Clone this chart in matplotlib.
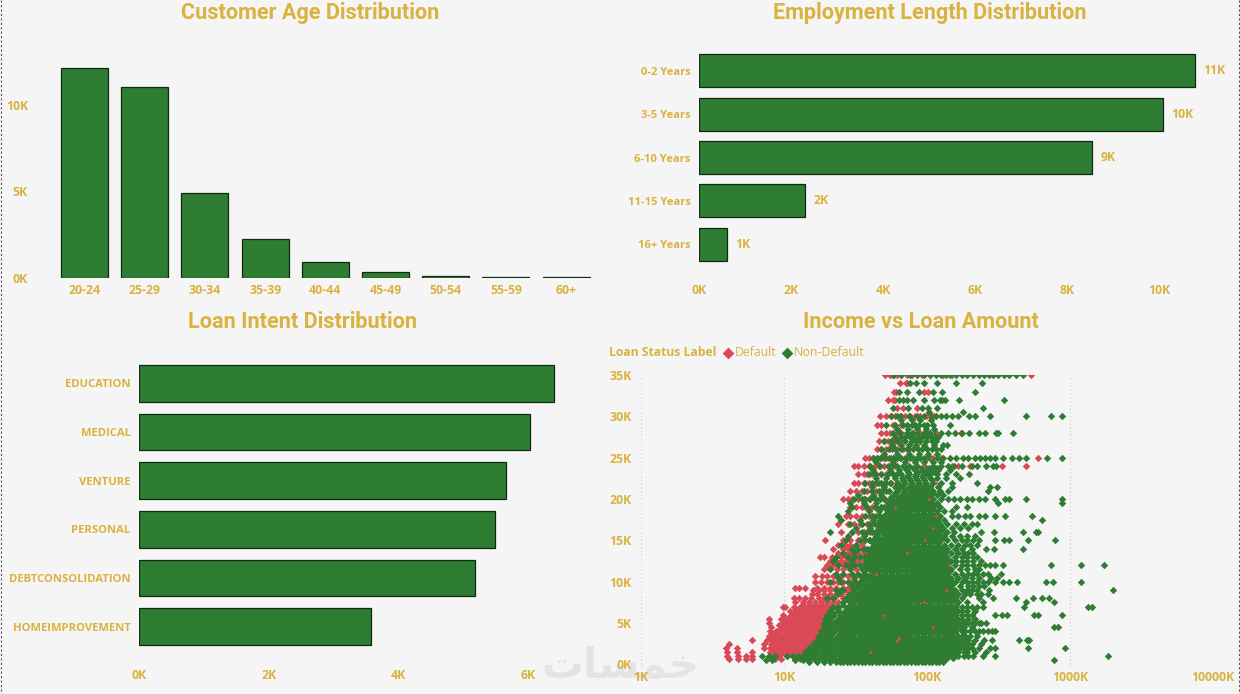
import matplotlib
matplotlib.use("Agg")
import matplotlib.pyplot as plt

W, H = 1240, 694
BG = "#F5F5F5"
GOLD = "#D9B23F"
GREEN = "#2E7D32"
RED = "#D94A56"
EDGE = "#0E2A12"

age_labels = ["20-24", "25-29", "30-34", "35-39", "40-44", "45-49", "50-54", "55-59", "60+"]
age_values = [12.14, 11.04, 4.9, 2.25, 0.93, 0.35, 0.14, 0.05, 0.04]
age_ticks = [0, 5, 10]

emp_labels = ["0-2 Years", "3-5 Years", "6-10 Years", "11-15 Years", "16+ Years"]
emp_values = [10.78, 10.09, 8.54, 2.3, 0.6]
emp_ticks = [0, 2, 4, 6, 8, 10]

intent_labels = ["EDUCATION", "MEDICAL", "VENTURE", "PERSONAL", "DEBTCONSOLIDATION", "HOMEIMPROVEMENT"]
intent_values = [6.39, 6.02, 5.66, 5.48, 5.17, 3.57]
intent_ticks = [0, 2, 4, 6]

income_ticks = [1, 10, 100, 1000, 10000]
amount_ticks = [0, 5, 10, 15, 20, 25, 30, 35]

# (loan amount in K, [annual incomes in K])
default_rows = [
 (0.7,[4.1,4.8,5.4,6.0,8.6,9.5,12,13,14.5,16.5]),
 (1.0,[4.0,4.8,5.4,6.0,8.2,9.2,10.5,11.5]),
 (1.25,[8.6,9.4,10.2,11,12,13]),
 (1.5,[4.0,4.7,6.0,8.0,8.8,9.8,10.8,12]),
 (1.75,[8.4,9.2,10,11,12,13,14.2]),
 (2.0,[3.9,4.7,7.2,8.0,8.8,9.6,10.4,11.3,12.3,13.4,14.6]),
 (2.25,[8.4,9.2,10,10.9,11.8,12.8,13.9,15.1]),
 (2.5,[4.1,7.2,8.1,9,9.9,10.8,11.8,12.9,14,15.3]),
 (2.75,[8.6,9.5,10.4,11.4,12.4,13.5,14.7,16]),
 (3.0,[6.0,7.6,8.4,9.3,10.3,11.3,12.4,13.6,15,16.4,17.8]),
 (3.25,[8,8.9,9.8,10.8,11.8,13,14.2,15.6,17]),
 (3.5,[7.8,8.6,9.6,10.6,11.7,12.8,14,15.4,16.8,18]),
 (3.75,[8.3,9.1,10.1,11.2,12.3,13.4,14.7,16,17.4]),
 (4.0,[8.0,8.8,10,11,12,13.2,14.5,16,17.5,19]),
 (4.25,[9.4,10.4,11.5,12.6,13.8,15.2,16.7,18.2]),
 (4.5,[8.1,9.6,10.5,11.4,12.6,13.8,15,16.5,18,20]),
 (4.75,[9.2,10.1,11.1,12.2,13.4,14.6,16,17.6,19.2]),
 (5.0,[7.9,9.8,10.8,11.8,13,14.2,15.6,17,18.6,20]),
 (5.25,[10.3,11.3,12.4,13.6,14.9,16.3,17.8,19.4]),
 (5.5,[7.8,9.6,10.2,11.4,12.4,13.6,15,16.3,17.8,19.5,21]),
 (5.75,[10.9,12,13.2,14.4,15.8,17.2,18.8]),
 (6.0,[9.8,11.5,12.8,14,15.4,16.8,18.4,20,22]),
 (6.25,[12.3,13.6,14.8,16.2,17.7,19.2,21]),
 (6.5,[11,11.9,13.2,14.6,16,17.6,19,21]),
 (6.75,[12.6,14,15.3,16.8,18.4,20]),
 (7.0,[9.8,10.1,11.8,13,14.4,15.8,17.2,19,21,23]),
 (7.25,[13.6,15,16.5,18,19.7,21.5]),
 (7.5,[11.9,13.6,15,16.6,18.2,20,22,24]),
 (8.0,[11.7,12.8,14,15.5,17.5,19,20.5,22.5,26,29]),
 (8.5,[15.6,17,19,21,23,25,28,31]),
 (9.0,[16,17.5,19,21,24,27,30]),
 (9.3,[11.9,12.8,14,17,19,21,23,26,28,32]),
 (10.0,[16.5,18,20,22,24,26,29,32,35]),
 (10.7,[16.5,18.5,20,22,25,28,31,34,38]),
 (11.5,[19,21,23.5,26,29,32,36]),
 (12.0,[20,22,24,26,28,30,32,34,37,40]),
 (12.5,[21,23,25,27,29,31,33,36]),
 (13.0,[17.8,19,21.5,25,27,28.5,30,32,34,38]),
 (13.5,[24,26,28,29.5,31,33,36,39]),
 (14.0,[22,26,28,30,32,35,38]),
 (14.5,[24,26.5,29,32,35]),
 (15.0,[19.3,26,29,33,36,40,44]),
 (16.0,[25,30,33,36,40,44,50]),
 (17.0,[24,28,31,34,38,41,45,52]),
 (18.0,[27,29,32,35,39,42,46,50,55]),
 (19.0,[29,32,35,37,41,44,48,53]),
 (20.0,[26,28,30,33,36,39,43,47,51,56]),
 (21.0,[29,32,35,38,41,44,48,54]),
 (22.0,[31,33,36,39,43,46,50,56,62]),
 (23.0,[33,36,38,41,44,48,52,58]),
 (24.0,[31,33,36,39,43,46,50,55,60,70,150,165,200,335,490]),
 (25.0,[37,39,42,45,48,52,56,60,65,72,80,90,100,110,125,595]),
 (26.0,[45,48,52,57,62,68,75]),
 (27.0,[46,50,53,57,60,63,66]),
 (28.0,[48,52,55,58,62,66,72,80,90,100,172]),
 (29.0,[45,48,58,66,72,82]),
 (30.0,[47,52,56,60,65,70,76,82,90,98,108,112]),
 (31.0,[62,68,85]),
 (32.0,[53,58,60]),
 (33.0,[59,61,102,96]),
 (34.0,[65,71,73]),
 (35.0,[51,55,59,62,66,72,78,92,105,130,150,534]),
]

nondefault_rows = [
 (0.5,[7.5,8.2,12,13.5,15,17,19,21,24,27,30,33,37,42,47,53,59,66,75,84,94,105,118,132,775]),
 (1.0,[7,7.8,8.6,10.5,11.5,12.5,13.5,14.5,16,18,20,22.5,25,28,32,35.5,40,45,50,56,63,70,79,88,99,111,124,139,156,1850]),
 (1.5,[14,15.5,17,19,21,24,26.5,30,33.5,38,42.5,47.5,53,59.5,66.5,74.5,83.5,93.5,105,117,132,147,165,180]),
 (2.0,[15,16.5,18,20,22.5,25,28,32,35.5,40,45,50,56,63,70,79,88,99,111,124,139,156,180,205,300,505,930]),
 (2.5,[16,17.5,19,21,24,26.5,30,33.5,38,42.5,47.5,53,59.5,66.5,74.5,83.5,93.5,105,117,132,147,170,190]),
 (3.0,[17,18,20,22.5,25,28,32,35.5,40,45,50,56,63,70,79,88,99,111,124,139,156,175,195,440,500,520]),
 (3.5,[17.5,19,21,24,26.5,30,33.5,38,42.5,47.5,53,59.5,66.5,74.5,83.5,93.5,105,117,132,147,165,185]),
 (4.0,[18,20,22.5,25,28,32,35.5,40,45,50,56,63,70,79,88,99,111,124,139,156,175,200,230,265,300]),
 (4.5,[19,21,24,26.5,30,33.5,38,42.5,47.5,53,59.5,66.5,74.5,83.5,93.5,105,117,132,147,170,775,820]),
 (5.0,[19,20,22.5,25,28,32,35.5,40,45,50,56,63,70,79,88,99,111,124,139,156,175,195,215,240]),
 (5.5,[19.5,21,24,26.5,30,33.5,38,42.5,47.5,53,59.5,66.5,74.5,83.5,93.5,105,117,132,147,165]),
 (6.0,[20,22.5,25,28,32,35.5,40,45,50,56,63,70,79,88,99,111,124,139,156,175,190,205,300,335,360,560,600,885]),
 (6.5,[21,24,26.5,30,33.5,38,42.5,47.5,53,59.5,66.5,74.5,83.5,93.5,105,117,132,147,165]),
 (7.0,[22,24,28,32,35.5,40,45,50,56,63,70,79,88,99,111,124,139,156,175,480,1340,1430]),
 (7.5,[26,30,33.5,38,42.5,47.5,53,59.5,66.5,74.5,83.5,93.5,105,117,132,147,165,190,245,490,770]),
 (8.0,[27,32,35.5,40,45,50,56,63,70,79,88,99,111,124,139,156,175,230,290,420,550,640,710]),
 (8.5,[24,29,33.5,38,42.5,47.5,53,59.5,66.5,74.5,83.5,93.5,105,117,132,147,165,185,225]),
 (9.0,[26,31,35.5,40,45,50,56,63,70,79,88,99,111,124,139,156,175,205,2000]),
 (9.5,[30,33.5,38,42.5,47.5,53,59.5,66.5,74.5,83.5,93.5,105,117,132,147,170,195,250]),
 (10.0,[21,28,34,39,45,50,56,63,70,79,88,99,111,124,139,156,175,190,205,225,245,265,300,340,375,425,680,760,1190]),
 (10.5,[24,31,36,40,44,47.5,53,59.5,66.5,74.5,83.5,93.5,105,117,132,147,165,310]),
 (11.0,[23,30,37,42,45,50,56,63,70,79,88,99,111,124,139,156,175,195,225,265,330]),
 (11.5,[21,29,35,39,43,47.5,53,59.5,66.5,74.5,83.5,93.5,105,117,132,147,170,230]),
 (12.0,[24,27,34,41,45,50,56,63,70,79,88,99,111,124,139,156,175,190,210,230,255,275,300,340,740,1190,1740]),
 (12.5,[22,30,38,42.5,47.5,53,59.5,66.5,74.5,83.5,93.5,105,117,132,147,160,190]),
 (13.0,[23,28,34,40,45,50,56,63,70,79,88,99,111,124,139,156,175,210]),
 (13.5,[26,31,41,46,53,59.5,66.5,74.5,83.5,93.5,105,117,132,147,165,195]),
 (14.0,[30,36,42,47,50,56,63,70,79,88,99,111,124,139,156,175,205,260,295,470]),
 (14.5,[25,32,44,47.5,53,59.5,66.5,74.5,83.5,93.5,105,117,132,147,165,185]),
 (15.0,[27,34,42,45,50,56,63,70,79,88,99,111,124,139,156,175,190,210,230,300,345,375,510,785]),
 (15.5,[28,36,44,53,59.5,66.5,74.5,83.5,93.5,105,117,132,150,170]),
 (16.0,[21,30,38,46,50,56,63,70,79,88,99,111,124,139,155,240,295,470,575,595]),
 (16.5,[32,40,48,53,59.5,66.5,74.5,83.5,93.5,105,117,130,150]),
 (17.0,[29,35,43,50,56,63,70,79,88,99,111,124,139,225]),
 (17.5,[25,34,42,47,53,59.5,66.5,74.5,83.5,93.5,105,117,132,640]),
 (18.0,[24,37,44,50,56,63,70,79,88,99,111,124,150,165,185,200,230,255,300,350,540]),
 (18.5,[28,39,46,53,59.5,66.5,74.5,83.5,93.5,105,117,132,150]),
 (19.0,[30,38,48,56,63,70,79,88,99,111,124,160,190]),
 (19.5,[29,36,44,53,59.5,66.5,74.5,83.5,93.5,105,117,315,885]),
 (20.0,[31,40,50,56,63,70,79,88,99,111,125,140,155,170,190,205,230,255,300,350,375,490,885]),
 (20.5,[33,42,48,59.5,66.5,74.5,83.5,93.5,105,117,130]),
 (21.0,[36,46,54,63,70,79,88,99,111,124,140,267]),
 (21.5,[41,50,59.5,66.5,74.5,83.5,93.5,105,120,150,277,310]),
 (22.0,[37,45,55,63,70,79,88,99,111,125,150,225]),
 (22.5,[44,52,60,66.5,74.5,83.5,93.5,105,118,135,170]),
 (23.0,[39,48,58,66,75,84,95,105,118,135,160,197]),
 (23.5,[42,55,64,72,83,93,108,120,145]),
 (24.0,[40,53,62,75,85,95,110,125,140,155,175,205,225,260,290,305]),
 (24.5,[44,58,70,82,95,110,125]),
 (25.0,[42,45,50,58,66,76,85,95,105,118,130,145,160,178,195,215,235,255,275,300,340,390,440,490,690,885]),
 (26.0,[48,60,72,86,100,115,125]),
 (26.5,[57,66,75,130,138]),
 (27.0,[50,62,78,90,108]),
 (27.5,[66,80,70,92,100,112]),
 (28.0,[58,65,72,78,85,95,105,115,125,140,157,175,197,232,255,305,315,400]),
 (29.0,[52,68,78,88,100,145]),
 (30.0,[56,62,66,75,85,95,105,115,125,135,150,165,197,215,275,490,740,885]),
 (30.5,[103,178]),
 (31.0,[58,245]),
 (32.0,[64,68,72,123,128,133,167,345]),
 (33.0,[64,127,215]),
 (34.0,[84,160,244]),
 (35.0,[58,66,76,85,95,105,115,125,135,145,160,175,190,210,230,250,270,290,315,345,375,420,467]),
]

# the solid core of non-default loans, between the rows above
nondefault_core = [
 (0.25,[15,17,19,21,23,26,29,33,37,41.5,46.5,52,58,65,73,82,92,103,115,129,24.5,27.5,31,35,39,44,49,55,61.5,69,77.5,87,97.5,109,122]),
 (0.75,[13,14.5,16,18,22,24.5,27.5,31,35,39,44,49,55,61.5,69,77.5,87,97.5,109,122,137,153,26,29,33,37,41.5,46.5,52,58,65,73,82,92,103,115,129]),
 (1.25,[15,17,19,21,23,26,29,33,37,41.5,46.5,52,58,65,73,82,92,103,115,129,145,160,24.5,27.5,31,35,39,44,49,55,61.5,69,77.5,87,97.5,109,122]),
 (1.75,[16,18,22,24.5,27.5,31,35,39,44,49,55,61.5,69,77.5,87,97.5,109,122,137,153,26,29,33,37,41.5,46.5,52,58,65,73,82,92,103,115,129]),
 (2.25,[17,19,21,23,26,29,33,37,41.5,46.5,52,58,65,73,82,92,103,115,129,145,160,24.5,27.5,31,35,39,44,49,55,61.5,69,77.5,87,97.5,109,122]),
 (2.75,[18,20,22,24.5,27.5,31,35,39,44,49,55,61.5,69,77.5,87,97.5,109,122,137,153,26,29,33,37,41.5,46.5,52,58,65,73,82,92,103,115,129]),
 (3.25,[19,21,23,26,29,33,37,41.5,46.5,52,58,65,73,82,92,103,115,129,145,160,24.5,27.5,31,35,39,44,49,55,61.5,69,77.5,87,97.5,109,122]),
 (3.75,[20,22,24.5,27.5,31,35,39,44,49,55,61.5,69,77.5,87,97.5,109,122,137,153,26,29,33,37,41.5,46.5,52,58,65,73,82,92,103,115,129]),
 (4.25,[20,21,23,26,29,33,37,41.5,46.5,52,58,65,73,82,92,103,115,129,145,160,24.5,27.5,31,35,39,44,49,55,61.5,69,77.5,87,97.5,109,122]),
 (4.75,[20,22,24.5,27.5,31,35,39,44,49,55,61.5,69,77.5,87,97.5,109,122,137,153,26,29,33,37,41.5,46.5,52,58,65,73,82,92,103,115,129]),
 (5.25,[20.5,23,26,29,33,37,41.5,46.5,52,58,65,73,82,92,103,115,129,145,160,24.5,27.5,31,35,39,44,49,55,61.5,69,77.5,87,97.5,109,122]),
 (5.75,[21,24.5,27.5,31,35,39,44,49,55,61.5,69,77.5,87,97.5,109,122,137,153,26,29,33,37,41.5,46.5,52,58,65,73,82,92,103,115,129]),
 (6.25,[22,26,29,33,37,41.5,46.5,52,58,65,73,82,92,103,115,129,145,160,27.5,31,35,39,44,49,55,61.5,69,77.5,87,97.5,109,122]),
 (6.75,[24,27.5,31,35,39,44,49,55,61.5,69,77.5,87,97.5,109,122,137,153,29,33,37,41.5,46.5,52,58,65,73,82,92,103,115,129]),
 (7.25,[26,29,33,37,41.5,46.5,52,58,65,73,82,92,103,115,129,145,160,31,35,39,44,49,55,61.5,69,77.5,87,97.5,109,122]),
 (7.75,[28,31,35,39,44,49,55,61.5,69,77.5,87,97.5,109,122,137,153,33,37,41.5,46.5,52,58,65,73,82,92,103,115,129]),
 (8.25,[30,33,37,41.5,46.5,52,58,65,73,82,92,103,115,129,145,155,35,39,44,49,55,61.5,69,77.5,87,97.5,109,122]),
 (8.75,[31,35,39,44,49,55,61.5,69,77.5,87,97.5,109,122,137,150,37,41.5,46.5,52,58,65,73,82,92,103,115,129]),
 (9.25,[33,37,41.5,46.5,52,58,65,73,82,92,103,115,129,145,39,44,49,55,61.5,69,77.5,87,97.5,109,122]),
 (9.75,[33,35,39,44,49,55,61.5,69,77.5,87,97.5,109,122,137,150,41.5,46.5,52,58,65,73,82,92,103,115,129]),
 (10.25,[35,37,41.5,46.5,52,58,65,73,82,92,103,115,129,145,39,44,49,55,61.5,69,77.5,87,97.5,109,122]),
 (10.75,[35,39,44,49,55,61.5,69,77.5,87,97.5,109,122,137,41.5,46.5,52,58,65,73,82,92,103,115,129]),
 (11.25,[36,41.5,46.5,52,58,65,73,82,92,103,115,129,145,44,49,55,61.5,69,77.5,87,97.5,109,122]),
 (11.75,[37,39,44,49,55,61.5,69,77.5,87,97.5,109,122,137,41.5,46.5,52,58,65,73,82,92,103,115,129]),
 (12.25,[38,41.5,46.5,52,58,65,73,82,92,103,115,129,140,44,49,55,61.5,69,77.5,87,97.5,109,122]),
 (12.75,[38,44,49,55,61.5,69,77.5,87,97.5,109,122,135,41.5,46.5,52,58,65,73,82,92,103,115,129]),
 (13.25,[39,41.5,46.5,52,58,65,73,82,92,103,115,129,44,49,55,61.5,69,77.5,87,97.5,109,122]),
 (13.75,[40,44,49,55,61.5,69,77.5,87,97.5,109,122,135,46.5,52,58,65,73,82,92,103,115,129]),
 (14.25,[41,46.5,52,58,65,73,82,92,103,115,129,44,49,55,61.5,69,77.5,87,97.5,109,122]),
 (14.75,[41.5,49,55,61.5,69,77.5,87,97.5,109,122,46.5,52,58,65,73,82,92,103,115]),
 (15.25,[43,46.5,52,58,65,73,82,92,103,115,129,49,55,61.5,69,77.5,87,97.5,109,122]),
 (15.75,[45,49,55,61.5,69,77.5,87,97.5,109,122,52,58,65,73,82,92,103,115]),
 (16.25,[45,52,58,65,73,82,92,103,115,128,49,55,61.5,69,77.5,87,97.5,109,122]),
 (16.75,[47,55,61.5,69,77.5,87,97.5,109,122,52,58,65,73,82,92,103,115]),
 (17.25,[49,52,58,65,73,82,92,103,115,55,61.5,69,77.5,87,97.5,109]),
 (17.75,[50,55,61.5,69,77.5,87,97.5,109,120,58,65,73,82,92,103,115]),
 (18.25,[52,58,65,73,82,92,103,115,55,61.5,69,77.5,87,97.5,109]),
 (18.75,[52,55,61.5,69,77.5,87,97.5,109,58,65,73,82,92,103]),
 (19.25,[53,58,65,73,82,92,103,112,61.5,69,77.5,87,97.5]),
 (19.75,[55,61.5,69,77.5,87,97.5,105,58,65,73,82,92]),
 (20.25,[56,65,73,82,92,103]),
 (20.75,[60,69,77.5,87,97.5,108]),
 (21.25,[62,73,82,92,103]),
 (21.75,[65,77.5,87,97.5]),
 (22.25,[68,76,85,95,108]),
 (22.75,[72,82,92,103]),
 (23.25,[74,86,98,112]),
 (23.75,[70,80,92,104,118]),
]

# scattered non-default loans along both flanks and in the upper rows
nondefault_fringe = [
 (1,[165,180,195,210,245,300]),(1.5,[190,215,260]),(2,[170,195,230,275]),(2.5,[160,180,205,240]),
 (3,[165,185,215,250,285]),(3.5,[175,200,225]),(4,[160,185,215,245,285]),(4.5,[160,180,205]),
 (5,[165,185,205,230,260]),(5.5,[158,175,195,215]),(6.5,[175,190,215]),(7,[190,205,225,245]),
 (8.5,[200,240,265]),(9,[190,225,270]),(9.5,[210,230]),(10.5,[185,205,230,280]),
 (11,[210,245]),(11.5,[190,215]),(12.5,[175,210,240]),(13,[190,225]),(13.5,[180,210]),
 (14.5,[200,225]),(15.5,[190,215]),(16.5,[170,195]),(17,[160,180,205]),
 (8,[20,22]),(9,[23,25]),(10,[25,31]),(11,[26,33]),(12,[29,31,36]),(13,[31,36,37]),
 (14,[33,38]),(15,[37,39]),(16,[35,41]),(17,[39,46]),(18,[41,47]),(19,[43,50]),
 (20,[35,37,44,47]),(21,[41,49,52]),(22,[41,48,52]),(23,[43,53,62]),(24,[47,57,68]),
 (25,[47,54,62,70,80,90]),(25.5,[50,62,75,88,102,118]),(26,[54,66,80,92,108]),
 (26.5,[84,96,112]),(27,[56,70,84,98,116]),(27.5,[60,76,86,106,120]),
 (28.5,[62,74,85,98,112]),(29,[60,72,82,95,110]),(29.5,[66,78,90,106]),
 (31,[74,92,102,118]),(32,[80,95,112]),(33,[72,88,110]),(34,[76,96,118]),
]

# default loans that show through on top of the dense green mass
default_top = [(1.5,40),(2.8,62),(3.2,64),(4.5,110),(6,50),(7.5,95),(9,135),(11,44),(12,142),(13.5,72),(15,97),(16.5,110),(18,115),(19,60),(20,103),(22,116),(24,96),(25,106),(28,117),(30,101)]


def px_axes(left, top, right, bottom, **kw):
    return fig.add_axes([left / W, 1 - bottom / H, (right - left) / W, (bottom - top) / H], **kw)


def clean(ax, xfs, yfs):
    ax.set_facecolor("none")
    for s in ax.spines.values():
        s.set_visible(False)
    ax.tick_params(length=0, labelcolor=GOLD)
    for t in ax.get_xticklabels():
        t.set_fontfamily("Open Sans")
        t.set_fontweight("bold")
        t.set_fontsize(xfs)
    for t in ax.get_yticklabels():
        t.set_fontfamily("Open Sans")
        t.set_fontweight("bold")
        t.set_fontsize(yfs)


CAT_FS = 8
NUM_FS = 8.8
fig = plt.figure(figsize=(W / 100, H / 100), dpi=100, facecolor=BG)

overlay = fig.add_axes([0, 0, 1, 1], zorder=0)
overlay.set_xlim(0, W)
overlay.set_ylim(H, 0)
overlay.axis("off")
for x in (1, 1239):
    overlay.plot([x, x], [0, H], color="#555555", lw=0.8, ls=(0, (2, 2)))
overlay.text(620, 666, "\uFE95\uFE8E\uFEB4\uFEE4\uFEA7", family="DejaVu Sans", fontweight="bold",
             fontsize=30, color="#E3E4E3", ha="center", va="center")

for x, y, t in [(310, 13, "Customer Age Distribution"), (930, 13, "Employment Length Distribution"),
                (302.5, 321.5, "Loan Intent Distribution"), (921, 321.5, "Income vs Loan Amount")]:
    overlay.text(x, y, t, family="Roboto", fontweight="bold", fontsize=15.6, color=GOLD,
                 ha="center", va="center")

# Age columns
ax1 = px_axes(54.3, 50, 596.3, 278, zorder=1)
ax1.bar(range(len(age_labels)), age_values, width=0.78, color=GREEN, edgecolor=EDGE, linewidth=0.9)
ax1.set_xlim(-0.5, 8.5)
ax1.set_ylim(0, 228 / 17.3)
ax1.set_xticks(range(len(age_labels)), age_labels)
ax1.set_yticks(age_ticks, [f"{v}K" for v in age_ticks])
clean(ax1, NUM_FS, NUM_FS)
ax1.tick_params(axis="x", pad=4.5)
ax1.tick_params(axis="y", pad=19)

# Employment bars
ax2 = px_axes(699, 49, 1220, 266, zorder=1)
ypos2 = list(range(len(emp_labels)))
ax2.barh(ypos2, emp_values, height=0.76, color=GREEN, edgecolor=EDGE, linewidth=0.9)
ax2.set_ylim(4.5, -0.5)
ax2.set_xlim(0, 521 / 46)
ax2.set_yticks(ypos2, emp_labels)
ax2.set_xticks(emp_ticks, [f"{v}K" for v in emp_ticks])
clean(ax2, NUM_FS, CAT_FS)
ax2.tick_params(axis="x", pad=13)
ax2.tick_params(axis="y", pad=6)
for y, v in zip(ypos2, emp_values):
    ax2.annotate(f"{round(v + 0.2)}K", (v, y), xytext=(6, 0), textcoords="offset points", va="center",
                 color=GOLD, family="Open Sans", fontweight="bold", fontsize=NUM_FS)

# Intent bars
ax3 = px_axes(139, 359, 600, 651, zorder=1)
ypos3 = list(range(len(intent_labels)))
ax3.barh(ypos3, intent_values, height=0.76, color=GREEN, edgecolor=EDGE, linewidth=0.9)
ax3.set_ylim(5.5, -0.5)
ax3.set_xlim(0, 461 / 64.9)
ax3.set_yticks(ypos3, intent_labels)
ax3.set_xticks(intent_ticks, [f"{v}K" for v in intent_ticks])
clean(ax3, NUM_FS, CAT_FS + 0.1)
ax3.tick_params(axis="x", pad=13)
ax3.tick_params(axis="y", pad=6)

# Scatter
ax4 = px_axes(641, 375, 1213, 667.8, zorder=1)
ax4.set_xscale("log")
ax4.set_xlim(1, 10000)
ax4.set_ylim(-0.4, 35)
ax4.set_xticks(income_ticks, [f"{v}K" for v in income_ticks])
ax4.minorticks_off()
ax4.set_yticks(amount_ticks, [f"{v}K" for v in amount_ticks])
ax4.grid(axis="x", color="#CFCFCF", lw=0.9, ls=(0, (1, 2)))
ax4.set_axisbelow(True)
SIZE = 14.5
green_rows = nondefault_rows + nondefault_core + nondefault_fringe
rx = [i for a, r in default_rows for i in r]
ry = [a for a, r in default_rows for _ in r]
gx = [i for a, r in green_rows for i in r]
gy = [a for a, r in green_rows for _ in r]
ax4.scatter(rx, ry, s=SIZE, marker="D", color=RED, linewidths=0, zorder=3)
ax4.scatter(gx, gy, s=SIZE, marker="D", color=GREEN, linewidths=0, zorder=4)
ax4.scatter([p[1] for p in default_top], [p[0] for p in default_top], s=4, marker="D", color=RED,
            linewidths=0, zorder=5)
clean(ax4, NUM_FS, NUM_FS)
ax4.tick_params(axis="x", pad=2.5)
ax4.tick_params(axis="y", pad=7)

# Legend
overlay.text(609, 352, "Loan Status Label", family="Open Sans", fontweight="bold", fontsize=8.7,
             color=GOLD, va="center")
overlay.scatter([728], [352.5], s=36, marker="D", color=RED, linewidths=0)
overlay.text(735, 352.5, "Default", family="Open Sans", fontsize=8.8, color=GOLD, va="center")
overlay.scatter([786.5], [352.5], s=36, marker="D", color=GREEN, linewidths=0)
overlay.text(794, 352.5, "Non-Default", family="Open Sans", fontsize=8.9, color=GOLD, va="center")

fig.savefig("out.png", dpi=100, facecolor=BG)
